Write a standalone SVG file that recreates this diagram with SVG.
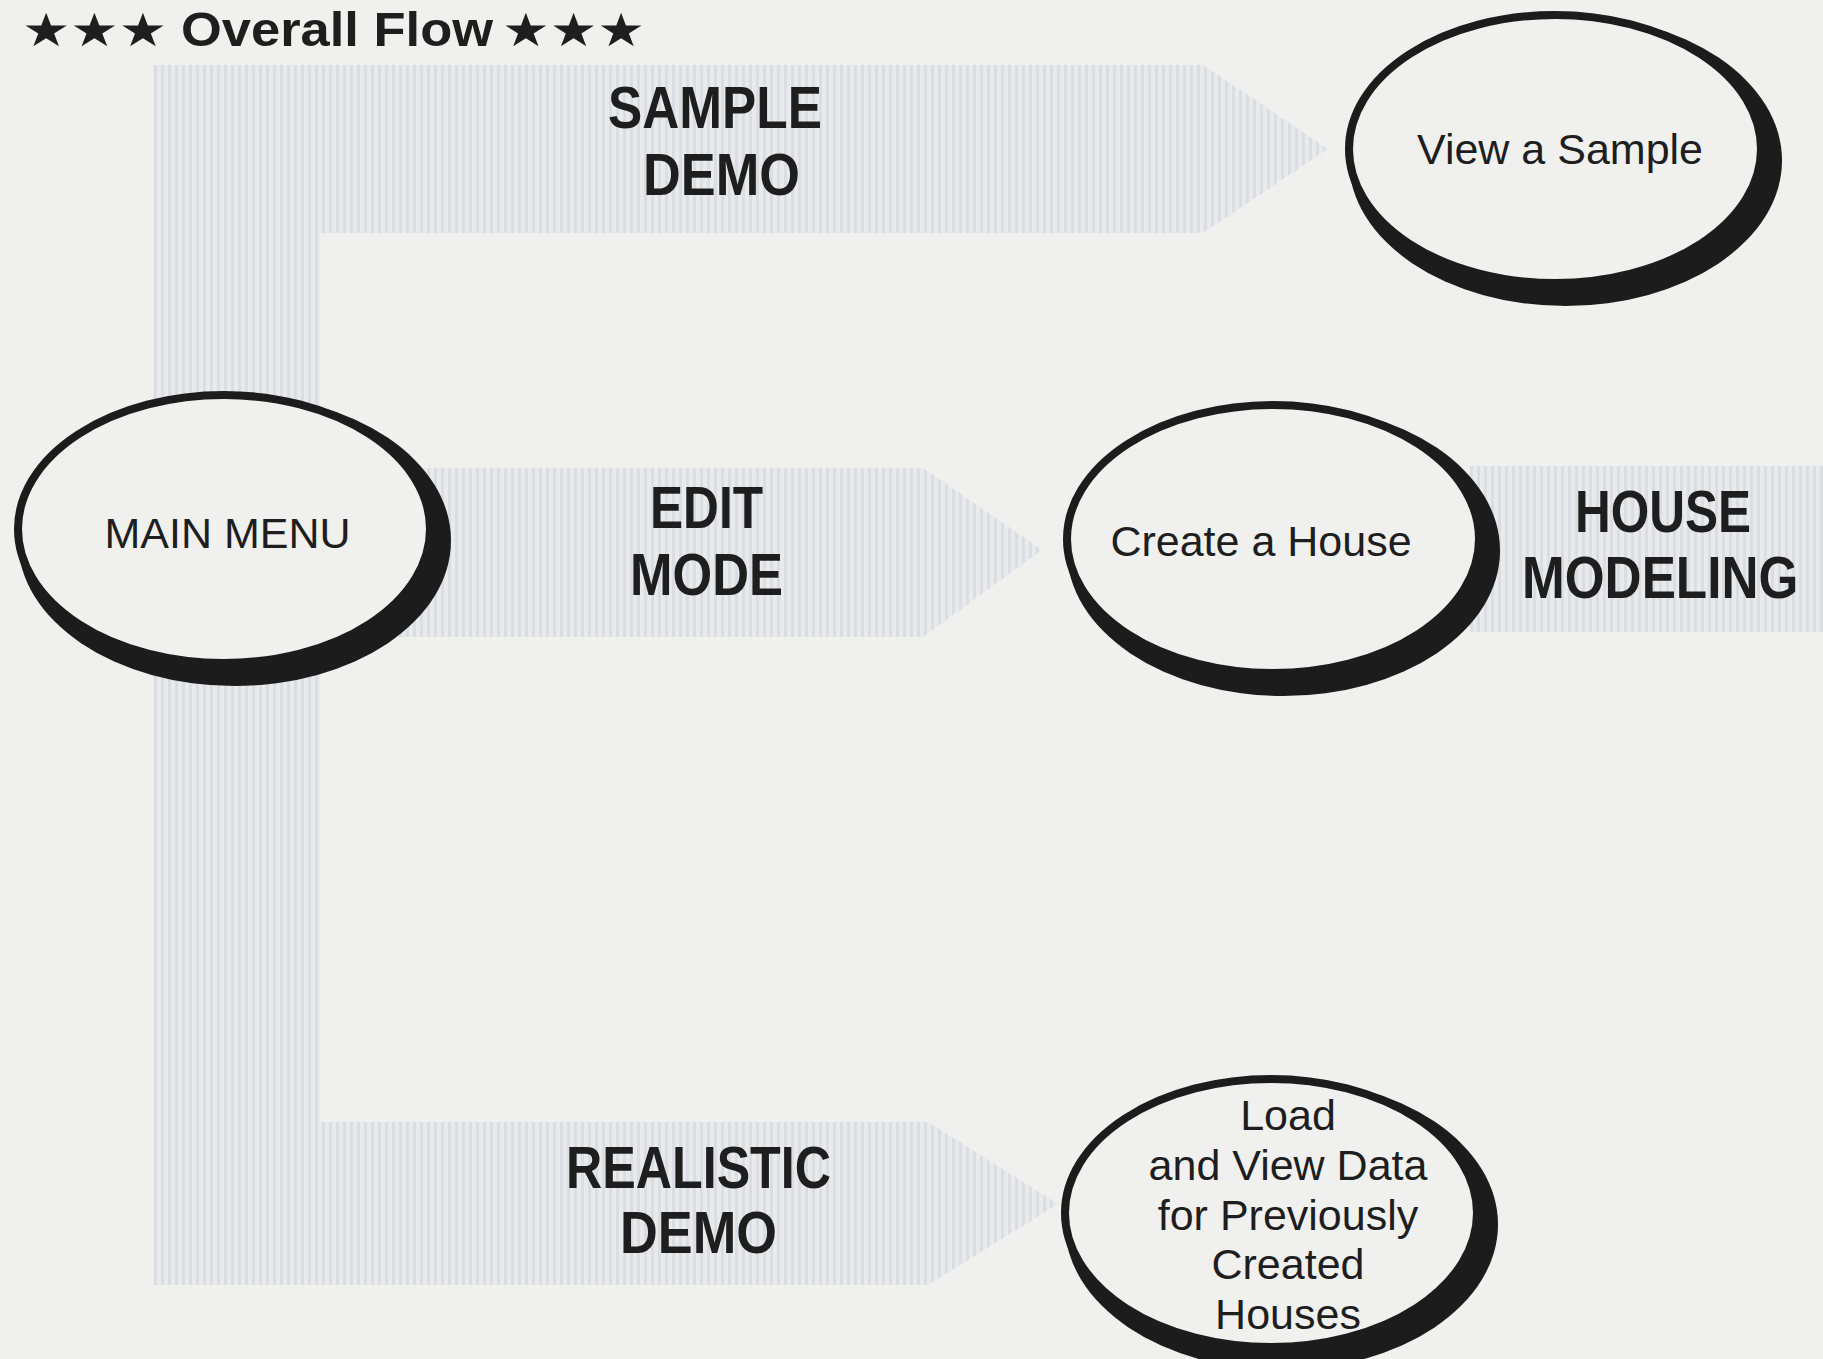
<svg xmlns="http://www.w3.org/2000/svg" width="1823" height="1359" viewBox="0 0 1823 1359">
<defs>
<pattern id="stripes" width="7" height="8" patternUnits="userSpaceOnUse">
<rect width="7" height="8" fill="#e9eaec"/>
<rect width="3" height="8" fill="#dadde1"/>
</pattern>
<style>
.band{fill:url(#stripes);stroke:none}
.shadow{fill:#1c1c1c}
.oval{fill:#f0f0ef;stroke:#1c1c1c;stroke-width:8}
.lbl{font-family:"Liberation Sans",Arial,Helvetica,sans-serif;font-size:43px;fill:#1e1e1e;text-anchor:middle}
.big{font-family:"Liberation Sans",Arial,Helvetica,sans-serif;font-size:60px;font-weight:bold;fill:#1e1e1e}
.title{font-family:"Liberation Sans",Arial,Helvetica,sans-serif;font-size:48px;font-weight:bold;fill:#1e1e1e}
.star{font-family:"DejaVu Sans",sans-serif;font-size:46px;fill:#1e1e1e}
</style>
</defs>
<rect width="1823" height="1359" fill="#f0f0ef"/>

<g id="title">
<text class="star" x="22" y="46" textLength="145" lengthAdjust="spacingAndGlyphs">★★★</text>
<text class="title" x="181" y="46" textLength="312" lengthAdjust="spacingAndGlyphs">Overall Flow</text>
<text class="star" x="502" y="46" textLength="143" lengthAdjust="spacingAndGlyphs">★★★</text>
</g>

<g id="connectors">
<rect class="band" x="153" y="65" width="167" height="1220"/>
<path class="band" d="M153,65 H1203 L1328,149 L1203,233 H153 Z"/>
<path class="band" d="M153,468 H923 L1042,550 L923,637 H153 Z"/>
<path class="band" d="M153,1122 H928 L1058,1204 L928,1285 H153 Z"/>
<rect class="band" x="1470" y="466" width="353" height="166"/>
</g>

<g id="labels">
<text class="big" x="608" y="128" textLength="214" lengthAdjust="spacingAndGlyphs">SAMPLE</text>
<text class="big" x="643" y="195" textLength="157" lengthAdjust="spacingAndGlyphs">DEMO</text>
<text class="big" x="650" y="528" textLength="113" lengthAdjust="spacingAndGlyphs">EDIT</text>
<text class="big" x="630" y="595" textLength="153" lengthAdjust="spacingAndGlyphs">MODE</text>
<text class="big" x="566" y="1188" textLength="265" lengthAdjust="spacingAndGlyphs">REALISTIC</text>
<text class="big" x="620" y="1253" textLength="157" lengthAdjust="spacingAndGlyphs">DEMO</text>
</g>

<g id="node-main-menu">
<ellipse class="shadow" cx="234.5" cy="540.5" rx="216.5" ry="145.5"/>
<ellipse class="oval" cx="224" cy="529" rx="206" ry="134"/>
<text class="lbl" x="227.5" y="548">MAIN MENU</text>
</g>

<g id="node-view-sample">
<ellipse class="shadow" cx="1565.5" cy="160.5" rx="216.5" ry="145.5"/>
<ellipse class="oval" cx="1555" cy="149" rx="206" ry="134"/>
<text class="lbl" x="1560" y="164">View a Sample</text>
</g>

<g id="node-create-house">
<ellipse class="shadow" cx="1283.5" cy="550.5" rx="216.5" ry="145.5"/>
<ellipse class="oval" cx="1273" cy="539" rx="206" ry="134"/>
<text class="lbl" x="1261" y="556">Create a House</text>
</g>

<g id="node-house-modeling">
<text class="big" x="1575" y="532" textLength="176" lengthAdjust="spacingAndGlyphs">HOUSE</text>
<text class="big" transform="translate(1522,598) scale(0.855,1)" x="0" y="0">MODELING</text>
</g>

<g id="node-load">
<ellipse class="shadow" cx="1281.5" cy="1224.5" rx="216.5" ry="145.5"/>
<ellipse class="oval" cx="1271" cy="1213" rx="206" ry="134"/>
<text class="lbl" x="1288" y="1130">Load</text>
<text class="lbl" x="1288" y="1180">and View Data</text>
<text class="lbl" x="1288" y="1230">for Previously</text>
<text class="lbl" x="1288" y="1279">Created</text>
<text class="lbl" x="1288" y="1329">Houses</text>
</g>
</svg>
